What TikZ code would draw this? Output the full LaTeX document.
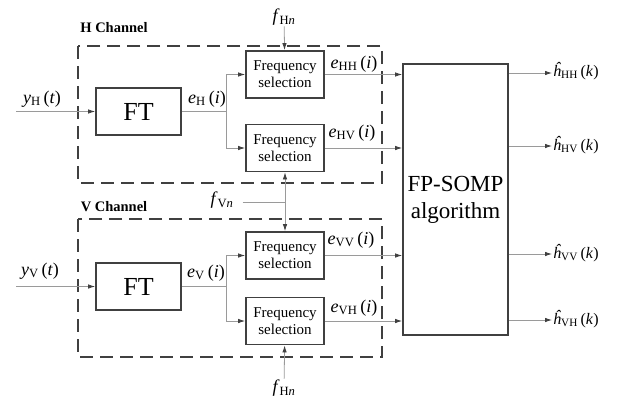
\documentclass[tikz,border=0pt]{standalone}
\usepackage{fontspec}
\setmainfont{Liberation Serif}
\usetikzlibrary{arrows.meta}
\definecolor{boxgray}{HTML}{404040}
\definecolor{linegray}{HTML}{9A9A9A}
\newcommand{\sig}[3]{\textit{#1}\textsubscript{#2}\,(\textit{#3})}
\tikzset{
	blockbox/.style={draw=boxgray, line width=1.8pt, align=center, inner sep=0pt},
	selbox/.style={blockbox, minimum width=78pt, minimum height=47pt,
		font=\fontsize{15}{17}\selectfont},
	chanbox/.style={draw=boxgray, line width=2.2pt, dash pattern=on 13pt off 7pt},
	conn/.style={draw=linegray, line width=0.8pt, -{Latex[length=7pt,width=4.5pt,color=boxgray]}},
	lbl/.style={inner sep=1pt, font=\fontsize{18}{20}\selectfont},
	outlbl/.style={inner sep=1pt, anchor=west, font=\fontsize{16}{18}\selectfont},
	chanlbl/.style={font=\fontsize{14.5}{16}\selectfont\bfseries}
}
\begin{document}
\begin{tikzpicture}[x=1pt, y=-1pt]
		\useasboundingbox (0,0) rectangle (623,402);

		% channel frames
		\draw[chanbox] (78,46) rectangle (382,183);
		\draw[chanbox] (78,219) rectangle (382,357);
		\node[chanlbl] (chH) at (114,28) {H Channel};
		\node[chanlbl] (chV) at (114,207) {V Channel};

		% blocks
		\node[blockbox, minimum width=85pt, minimum height=47pt,
			font=\fontsize{26}{28}\selectfont] (ftH) at (138.5,111.5) {FT};
		\node[blockbox, minimum width=85pt, minimum height=47pt,
			font=\fontsize{26}{28}\selectfont] (ftV) at (138.5,286.5) {FT};
		\node[selbox] (fsHH) at (285,74.5) {Frequency\\selection};
		\node[selbox] (fsHV) at (285,148) {Frequency\\selection};
		\node[selbox] (fsVV) at (285,255.5) {Frequency\\selection};
		\node[selbox] (fsVH) at (285,321) {Frequency\\selection};
		\node[blockbox, minimum width=105pt, minimum height=271pt,
			font=\fontsize{23}{27}\selectfont] (somp) at (455.5,199.5) {FP-SOMP\\algorithm};

		% inputs
		\coordinate (inH) at (16,111.5);
		\coordinate (inV) at (16,286.5);
		\draw[conn] (inH) -- (ftH);
		\draw[conn] (inV) -- (ftV);
		\node[lbl] (yH) at (42,99) {\sig{y}{H}{t}};
		\node[lbl] (yV) at (40,271) {\sig{y}{V}{t}};

		% branches
		\coordinate (brH) at (226,111.5);
		\coordinate (brV) at (226,286.5);
		\draw[draw=linegray, line width=0.8pt] (ftH) -- (brH);
		\draw[draw=linegray, line width=0.8pt] (ftV) -- (brV);
		\draw[conn] (brH) |- (fsHH);
		\draw[conn] (brH) |- (fsHV);
		\draw[conn] (brV) |- (fsVV);
		\draw[conn] (brV) |- (fsVH);
		\node[lbl] (eH) at (207,99) {\sig{e}{H}{i}};
		\node[lbl] (eV) at (206,273) {\sig{e}{V}{i}};

		% frequency inputs
		\node[lbl] (fHtop) at (284,17) {\textit{f}\textsubscript{H\textit{n}}};
		\node[lbl] (fHbot) at (284,388) {\textit{f}\textsubscript{H\textit{n}}};
		\node[lbl] (fV) at (222,200) {\textit{f}\textsubscript{V\textit{n}}};
		\coordinate (fVj) at (285,202);
		\draw[conn] (fHtop) -- (fsHH);
		\draw[conn] (fHbot) -- (fsVH);
		\draw[draw=linegray, line width=0.8pt] (fV.east) ++(8,2) -- (fVj);
		\draw[conn, {Latex[length=7pt,width=4.5pt,color=boxgray]}-{Latex[length=7pt,width=4.5pt,color=boxgray]}]
			(fsHV) -- (fsVV);

		% selected signals
		\draw[conn] (fsHH) -- (fsHH -| somp.west);
		\draw[conn] (fsHV) -- (fsHV -| somp.west);
		\draw[conn] (fsVV) -- (fsVV -| somp.west);
		\draw[conn] (fsVH) -- (fsVH -| somp.west);
		\node[lbl] (eHH) at (354,64) {\sig{e}{HH}{i}};
		\node[lbl] (eHV) at (352,133) {\sig{e}{HV}{i}};
		\node[lbl] (eVV) at (351,240) {\sig{e}{VV}{i}};
		\node[lbl] (eVH) at (354,308) {\sig{e}{VH}{i}};

		% estimates
		\node[outlbl] (hHH) at (552,71) {\sig{ĥ}{HH}{k}};
		\node[outlbl] (hHV) at (552,145) {\sig{ĥ}{HV}{k}};
		\node[outlbl] (hVV) at (552,253) {\sig{ĥ}{VV}{k}};
		\node[outlbl] (hVH) at (552,319) {\sig{ĥ}{VH}{k}};
		\draw[conn] (somp.east |- 0,73) -- (hHH.west |- 0,73);
		\draw[conn] (somp.east |- 0,146) -- (hHV.west |- 0,146);
		\draw[conn] (somp.east |- 0,254) -- (hVV.west |- 0,254);
		\draw[conn] (somp.east |- 0,320) -- (hVH.west |- 0,320);
	\end{tikzpicture}
\end{document}
